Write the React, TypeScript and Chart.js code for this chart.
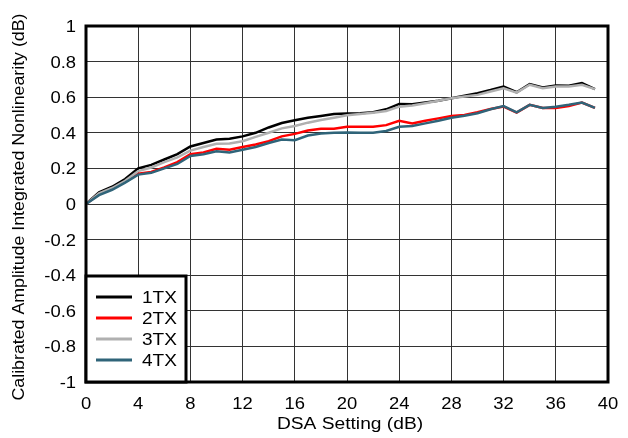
import React, { useEffect, useRef } from "react";
import { Chart, registerables } from "chart.js";

Chart.register(...registerables);

const dsaSetting = [0,1,2,3,4,5,6,7,8,9,10,11,12,13,14,15,16,17,18,19,20,21,22,23,24,25,26,27,28,29,30,31,32,33,34,35,36,37,38,39];
const tx1 = [0,0.066,0.097,0.14,0.2,0.22,0.25,0.28,0.323,0.343,0.362,0.366,0.38,0.4,0.43,0.455,0.47,0.485,0.495,0.506,0.508,0.51,0.515,0.532,0.562,0.56,0.57,0.58,0.594,0.608,0.623,0.64,0.66,0.628,0.674,0.655,0.666,0.664,0.68,0.645];
const tx2 = [0,0.055,0.085,0.125,0.17,0.18,0.205,0.235,0.28,0.29,0.31,0.305,0.32,0.334,0.353,0.38,0.394,0.413,0.423,0.423,0.434,0.434,0.434,0.443,0.468,0.453,0.468,0.481,0.494,0.5,0.515,0.534,0.547,0.513,0.557,0.54,0.54,0.55,0.57,0.54];
const tx3 = [0,0.06,0.09,0.13,0.185,0.205,0.235,0.262,0.3,0.32,0.338,0.34,0.353,0.377,0.4,0.425,0.438,0.457,0.472,0.485,0.498,0.505,0.513,0.523,0.547,0.553,0.566,0.58,0.594,0.604,0.613,0.632,0.65,0.626,0.67,0.65,0.66,0.66,0.67,0.645];
const tx4 = [0,0.05,0.08,0.12,0.165,0.175,0.2,0.225,0.27,0.28,0.296,0.29,0.305,0.32,0.343,0.362,0.358,0.385,0.396,0.4,0.402,0.4,0.4,0.41,0.434,0.438,0.453,0.468,0.485,0.496,0.51,0.532,0.55,0.515,0.557,0.54,0.547,0.557,0.57,0.54];
const seriesLabels = ["1TX", "2TX", "3TX", "4TX"];
const seriesColors = ["#000000", "#ff0000", "#b0b0b0", "#2f6479"];
const xTitle = "DSA Setting (dB)";
const yTitle = "Calibrated Amplitude Integrated Nonlinearity (dB)";

const FONT = "'Liberation Sans', Arial, sans-serif";

const fmt = (v: number) => String(Math.round(v * 10) / 10);

function stretchedText(ctx: any, text: string, x: number, y: number, sx: number, align: string, rot = 0) {
  ctx.save();
  ctx.translate(x, y);
  if (rot) ctx.rotate(rot);
  ctx.scale(sx, 1);
  ctx.textAlign = align;
  ctx.fillText(text, 0, 0);
  ctx.restore();
}

const framePlugin = {
  id: "frameLegendText",
  afterDatasetsDraw(chart: any) {
    const { ctx, chartArea } = chart;
    const { left, top, right, bottom } = chartArea;
    ctx.save();
    ctx.strokeStyle = "#000";
    ctx.lineWidth = 3;
    ctx.strokeRect(left, top, right - left, bottom - top);
    // legend box
    const bx = left, by = bottom - 106, bw = 100, bh = 106;
    ctx.fillStyle = "#fff";
    ctx.fillRect(bx, by, bw, bh);
    ctx.strokeRect(bx, by, bw, bh);
    ctx.font = "17px " + FONT;
    ctx.textBaseline = "alphabetic";
    chart.data.datasets.forEach((ds: any, i: number) => {
      const y = by + 21 + i * 21;
      ctx.strokeStyle = ds.borderColor;
      ctx.lineWidth = 3;
      ctx.beginPath();
      ctx.moveTo(bx + 10, y);
      ctx.lineTo(bx + 46, y);
      ctx.stroke();
      ctx.fillStyle = "#000";
      stretchedText(ctx, ds.label, bx + 56, y + 6, 1.12, "left");
    });
    ctx.restore();
  },
  afterDraw(chart: any) {
    const { ctx, chartArea, scales } = chart;
    ctx.save();
    ctx.fillStyle = "#000";
    ctx.font = "16px " + FONT;
    ctx.textBaseline = "alphabetic";
    scales.x.ticks.forEach((t: any) => {
      const px = scales.x.getPixelForValue(t.value);
      stretchedText(ctx, fmt(t.value), px, 409, 1.15, "center");
    });
    scales.y.ticks.forEach((t: any) => {
      const py = scales.y.getPixelForValue(t.value);
      stretchedText(ctx, fmt(t.value), chartArea.left - 10, py + 6, 1.15, "right");
    });
    stretchedText(ctx, xTitle, 350, 429, 1.2, "center");
    ctx.textBaseline = "middle";
    stretchedText(ctx, yTitle, 20, 207, 1.11, "center", -Math.PI / 2);
    ctx.restore();
  },
};

export default function App() {
  const ref = useRef<HTMLCanvasElement>(null);
  useEffect(() => {
    const all = [tx1, tx2, tx3, tx4];
    const chart = new Chart(ref.current as HTMLCanvasElement, {
      type: "line",
      data: {
        datasets: all.map((vals, i) => ({
          label: seriesLabels[i],
          data: dsaSetting.map((x, j) => ({ x, y: vals[j] })),
          borderColor: seriesColors[i],
          backgroundColor: seriesColors[i],
          borderWidth: 2.5,
          pointRadius: 0,
          tension: 0,
          fill: false,
          order: 4 - i,
        })),
      },
      options: {
        responsive: false,
        animation: false,
        layout: { padding: { top: 26, right: 20, left: 0, bottom: 0 } },
        plugins: { legend: { display: false }, tooltip: { enabled: false } },
        scales: {
          x: {
            type: "linear",
            min: 0,
            max: 40,
            ticks: { stepSize: 4, display: false },
            grid: { color: "#333", lineWidth: 1, drawTicks: false },
            border: { display: false },
            title: { display: false, text: xTitle },
            afterFit: (s: any) => { s.height = 56; },
          },
          y: {
            min: -1,
            max: 1,
            ticks: { stepSize: 0.2, display: false },
            grid: { color: "#333", lineWidth: 1, drawTicks: false },
            border: { display: false },
            title: { display: false, text: yTitle },
            afterFit: (s: any) => { s.width = 86; },
          },
        },
      },
      plugins: [framePlugin],
    });
    return () => chart.destroy();
  }, []);
  return (
    <div style={{ position: "fixed", left: 0, top: 0, width: 628, height: 438, background: "#fff" }}>
      <canvas ref={ref} width={628} height={438} />
    </div>
  );
}
